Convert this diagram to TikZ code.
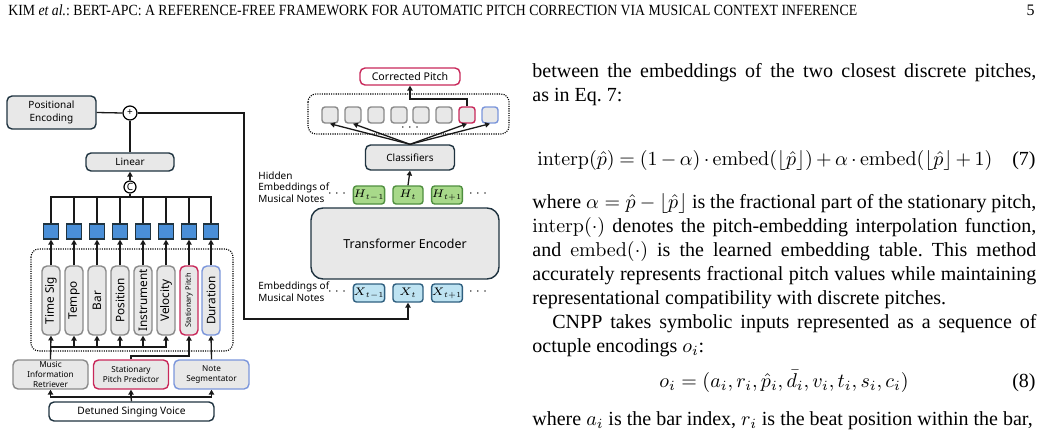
\RequirePackage{fix-cm}
\documentclass[tikz,border=0pt]{standalone}
\usepackage[no-math]{fontspec}
\setmainfont{Liberation Serif}
\newfontfamily\figfont{Noto Sans}
\usetikzlibrary{arrows.meta,positioning}
\frenchspacing
\definecolor{edgedark}{HTML}{1F3340}
\definecolor{edgegray}{HTML}{8A8A8A}
\definecolor{boxgray}{HTML}{E8E8E8}
\definecolor{crimson}{HTML}{C8285A}
\definecolor{paleblue}{HTML}{7B96DB}
\definecolor{featblue}{HTML}{4A8FD8}
\definecolor{hidgreen}{HTML}{A8D98A}
\definecolor{hidedge}{HTML}{4F8F3F}
\definecolor{embblue}{HTML}{BEE3F2}
\definecolor{embedge}{HTML}{2F5F7F}
\tikzset{gbox/.style={
    rectangle,
    draw=edgedark,
    fill=boxgray,
    line width=0.7pt,
    rounded corners=2.5pt,
    inner sep=0pt,
    align=center,
    font=\figfont\fontsize{5}{6.5}\selectfont
  },
  tallbox/.style={gbox,draw=edgegray,minimum width=9pt,minimum height=34.5pt,
    font=\figfont\fontsize{5.9}{7}\selectfont},
  modbox/.style={gbox,draw=edgegray,minimum width=37.5pt,minimum height=14.5pt,
    font=\figfont\fontsize{4.1}{5}\selectfont},
  featbox/.style={rectangle,draw=edgedark,fill=featblue,line width=0.7pt,
    minimum size=7.5pt,inner sep=0pt},
  cellbox/.style={gbox,draw=edgegray,minimum size=8pt,rounded corners=1.5pt},
  hidbox/.style={gbox,draw=hidedge,fill=hidgreen,minimum width=15pt,minimum height=9pt,
    rounded corners=1.5pt,font=\figfont\fontsize{5.5}{6.5}\selectfont},
  embbox/.style={hidbox,draw=embedge,fill=embblue},
  opcirc/.style={circle,draw=black,fill=white,line width=0.6pt,inner sep=0pt,
    minimum size=7pt,font=\figfont\fontsize{5}{6}\selectfont},
  dotbox/.style={draw=black,line width=0.55pt,dash pattern=on 0.55pt off 0.6pt,
    rounded corners=4pt},
  lbl/.style={anchor=west,inner sep=0pt,align=left,
    font=\figfont\fontsize{5}{5.8}\selectfont},
  dots/.style={inner sep=0pt,font=\fontsize{6}{7}\selectfont},
  conn/.style={line width=0.65pt,draw=black!90},
  bodytext/.style={anchor=base west,inner sep=0pt,text width=252pt,align=justify,
    font=\fontsize{10}{12}\selectfont},
  >={Triangle[length=2.4pt,width=2.6pt]}
}
\begin{document}
\begin{tikzpicture}[x=0.5pt,y=-0.5pt]
  \useasboundingbox (0,0) rectangle (1043,439);
  % running head
  \node[anchor=base west,inner sep=0pt,font=\fontsize{8}{9.5}\selectfont] (head) at (8,16)
  {\scalebox{0.86}[0.97]{KIM \textit{et al.}: BERT-APC: A REFERENCE-FREE FRAMEWORK FOR AUTOMATIC PITCH CORRECTION VIA MUSICAL CONTEXT INFERENCE}};
  \node[anchor=base east,inner sep=0pt,font=\fontsize{8}{9.5}\selectfont] (pageno) at (1035,16) {5};

  % left: feature branch
  \draw[dotbox] (31,249) rectangle (233,351);
  \node[gbox,minimum width=44.5pt,minimum height=16.5pt] (pe) at (51.5,112.5) {Positional\\Encoding};
  \node[opcirc] (plus) at (130,113) {+};
  \node[gbox,minimum width=44pt,minimum height=9pt] (linear) at (130,162) {Linear};
  \node[opcirc,minimum size=6pt] (cat) at (130,187) {C};
  \node[featbox] (sq1) at (51,231.5) {};
  \node[featbox] (sq2) at (74,231.5) {};
  \node[featbox] (sq3) at (97,231.5) {};
  \node[featbox] (sq4) at (120,231.5) {};
  \node[featbox] (sq5) at (143,231.5) {};
  \node[featbox] (sq6) at (166,231.5) {};
  \node[featbox] (sq7) at (189,231.5) {};
  \node[featbox] (sq8) at (211,231.5) {};
  \node[tallbox] (tb1) at (51,300.5) {\rotatebox{90}{Time Sig}};
  \node[tallbox] (tb2) at (74,300.5) {\rotatebox{90}{Tempo}};
  \node[tallbox] (tb3) at (97,300.5) {\rotatebox{90}{Bar}};
  \node[tallbox] (tb4) at (120,300.5) {\rotatebox{90}{Position}};
  \node[tallbox] (tb5) at (143,300.5) {\rotatebox{90}{Instrument}};
  \node[tallbox] (tb6) at (166,300.5) {\rotatebox{90}{Velocity}};
  \node[tallbox,draw=crimson,font=\figfont\fontsize{3.7}{4.5}\selectfont] (tb7) at (189,300.5)
  {\rotatebox{90}{Stationary Pitch}};
  \node[tallbox,draw=paleblue] (tb8) at (211,300.5) {\rotatebox{90}{Duration}};
  \node[modbox] (mir) at (50.5,374.5) {Music\\Information\\Retriever};
  \node[modbox,draw=crimson] (spp) at (131,374.5) {Stationary\\Pitch Predictor};
  \node[modbox,draw=paleblue] (ns) at (211.5,374.5) {Note\\Segmentator};
  \node[gbox,fill=white,minimum width=82.5pt,minimum height=9.5pt,
    font=\figfont\fontsize{5.1}{6}\selectfont] (dsv) at (131.5,411.5) {Detuned Singing Voice};

  \coordinate (busC) at (131,397);
  \draw[conn] (dsv.north) -- (busC);
  \draw[conn,->] (busC) -| (mir.south);
  \draw[conn,->] (busC) -| (ns.south);
  \draw[conn,->] (busC) -- (spp.south);
  \coordinate (busA) at (51,347);
  \draw[conn,->] (mir.north) -- (tb1.south);
  \draw[conn,->] (busA) -| (tb6.south);
  \draw[conn,->] (tb2.south |- busA) -- (tb2.south);
  \draw[conn,->] (tb3.south |- busA) -- (tb3.south);
  \draw[conn,->] (tb4.south |- busA) -- (tb4.south);
  \draw[conn,->] (tb5.south |- busA) -- (tb5.south);
  \coordinate (busB) at (131,356);
  \draw[conn,->] (spp.north) -- (busB) -| (tb7.south);
  \draw[conn,->] (ns.north) -- (tb8.south);
  \draw[conn,->] (tb1.north) -- (sq1.south);
  \draw[conn,->] (tb2.north) -- (sq2.south);
  \draw[conn,->] (tb3.north) -- (sq3.south);
  \draw[conn,->] (tb4.north) -- (sq4.south);
  \draw[conn,->] (tb5.north) -- (sq5.south);
  \draw[conn,->] (tb6.north) -- (sq6.south);
  \draw[conn,->] (tb7.north) -- (sq7.south);
  \draw[conn,->] (tb8.north) -- (sq8.south);
  \coordinate (busD) at (130,197);
  \draw[conn] (cat.south) -- (busD);
  \draw[conn] (busD) -| (sq1.north);
  \draw[conn] (busD) -| (sq2.north);
  \draw[conn] (busD) -| (sq3.north);
  \draw[conn] (busD) -| (sq4.north);
  \draw[conn] (busD) -| (sq5.north);
  \draw[conn] (busD) -| (sq6.north);
  \draw[conn] (busD) -| (sq7.north);
  \draw[conn] (busD) -| (sq8.north);
  \draw[conn,->] (cat.north) -- (linear.south);
  \draw[conn] (linear.north) -- (plus.south);
  \draw[conn] (pe.east) -- (plus.west);

  % right: encoder branch
  \draw[dotbox] (308,94) rectangle (509,134);
  \node[gbox,fill=white,draw=crimson,minimum width=50pt,minimum height=8.5pt,
    font=\figfont\fontsize{5.3}{6.5}\selectfont] (cp) at (410,76.5) {Corrected Pitch};
  \node[cellbox] (cs1) at (330,115) {};
  \node[cellbox] (cs2) at (353,115) {};
  \node[cellbox] (cs3) at (376,115) {};
  \node[cellbox] (cs4) at (399,115) {};
  \node[cellbox] (cs5) at (421,115) {};
  \node[cellbox] (cs6) at (444,115) {};
  \node[cellbox,draw=crimson] (cs7) at (467,115) {};
  \node[cellbox,draw=paleblue] (cs8) at (490,115) {};
  \node[dots] (csdots) at (410,128) {$\cdots$};
  \node[gbox,minimum width=44.5pt,minimum height=12.5pt] (cls) at (410,157.5) {Classifiers};
  \node[hidbox] (hp) at (369,195) {$H_{t-1}$};
  \node[hidbox] (ht) at (408,195) {$H_{t}$};
  \node[hidbox] (hn) at (447,195) {$H_{t+1}$};
  \node[dots] (hdotl) at (337,194) {$\cdots$};
  \node[dots] (hdotr) at (478,194) {$\cdots$};
  \node[lbl] (hidlbl) at (258,187) {Hidden\\Embeddings of\\Musical Notes};
  \node[gbox,minimum width=94pt,minimum height=35.5pt,rounded corners=6pt,
    font=\figfont\fontsize{6.2}{7.5}\selectfont] (enc) at (405,243.5) {Transformer Encoder};
  \node[embbox] (xp) at (369,293) {$X_{t-1}$};
  \node[embbox] (xt) at (408,293) {$X_{t}$};
  \node[embbox] (xn) at (447,293) {$X_{t+1}$};
  \node[dots] (xdotl) at (337,292) {$\cdots$};
  \node[dots] (xdotr) at (478,292) {$\cdots$};
  \node[lbl] (emblbl) at (258,292) {Embeddings of\\Musical Notes};

  \coordinate (fbcorner) at (244,319);
  \draw[conn,->] (plus.east) -| (fbcorner) -| (xt.south);
  \draw[conn,->] (ht.north) -- (cls.south);
  \draw[conn,->] (cls.north) -- (cs1.south);
  \draw[conn,->] (cls.north) -- (cs2.south);
  \draw[conn,->] (cls.north) -- (cs7.south);
  \draw[conn,->] (cls.north) -- (cs8.south);
  \coordinate (cpturn) at (410,99);
  \draw[conn,->] (cs7.north) |- (cpturn) -- (cp.south);

  % right column text
  \node[bodytext] (para1) at (532,77.5)
  {between the embeddings of the two closest discrete pitches,\linebreak as in Eq.~7:};
  \node[anchor=base west,inner sep=0pt,font=\fontsize{10}{12}\selectfont] (eq7) at (537,165)
  {\medmuskip=3mu\thickmuskip=4.3mu$\mathrm{interp}(\hat{p})=(1-\alpha)\cdot\mathrm{embed}(\lfloor\hat{p}\rfloor)+\alpha\cdot\mathrm{embed}(\lfloor\hat{p}\rfloor+1)$};
  \node[anchor=base east,inner sep=0pt,font=\fontsize{10}{12}\selectfont] (tag7) at (1036,165) {(7)};
  \node[bodytext] (para2) at (532,208.5)
  {where $\alpha=\hat{p}-\lfloor\hat{p}\rfloor$ is the fractional part of the stationary pitch,\linebreak
  $\mathrm{interp}(\cdot)$ denotes the pitch-embedding interpolation function,\linebreak
  and $\mathrm{embed}(\cdot)$ is the learned embedding table. This method\linebreak
  accurately represents fractional pitch values while maintaining\linebreak
  representational compatibility with discrete pitches.};
  \node[bodytext] (para3) at (532,328.5)
  {\hspace*{1em}CNPP takes symbolic inputs represented as a sequence of\linebreak
  octuple encodings $o_i$:};
  \node[anchor=base,inner sep=0pt,font=\fontsize{10}{12}\selectfont] (eq8) at (784,387)
  {$o_i=(a_i,r_i,\hat{p}_i,\bar{d}_i,v_i,t_i,s_i,c_i)$};
  \node[anchor=base east,inner sep=0pt,font=\fontsize{10}{12}\selectfont] (tag8) at (1036,387) {(8)};
  \node[bodytext] (para4) at (532,425.5)
  {\parfillskip=0pt where $a_i$ is the bar index, $r_i$ is the beat position within the bar,};
\end{tikzpicture}
\end{document}
